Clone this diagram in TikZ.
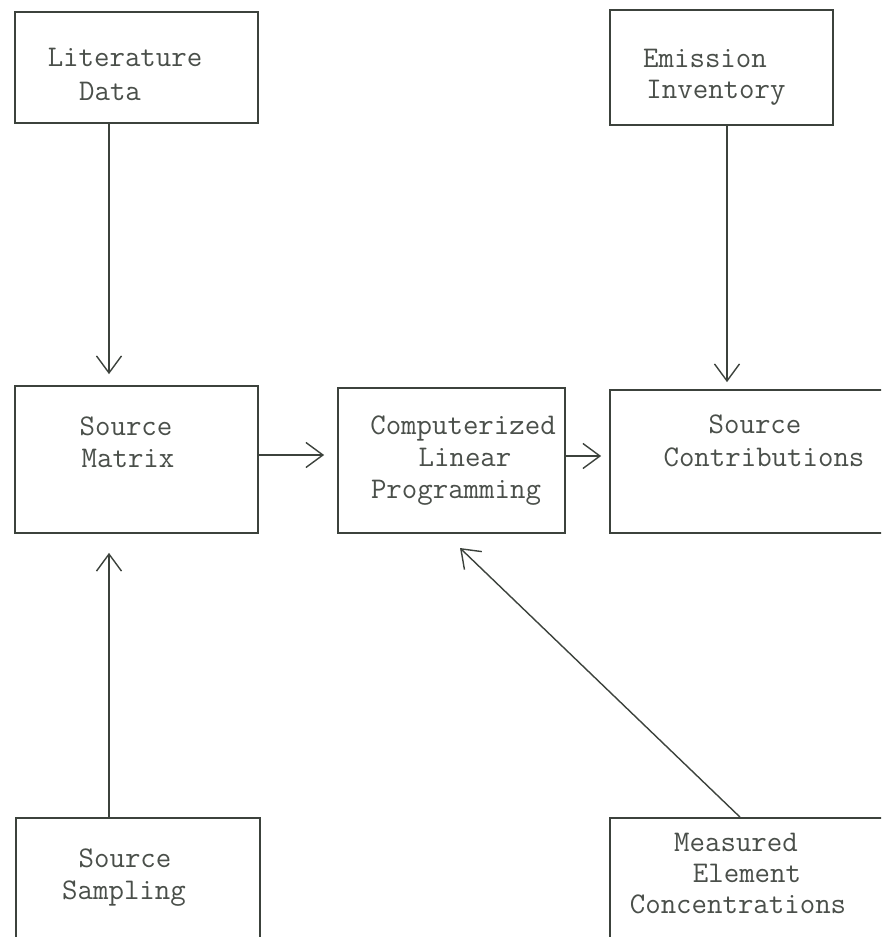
\documentclass[tikz,border=0pt]{standalone}
\usetikzlibrary{arrows.meta}
\definecolor{ink}{HTML}{3C423C}
\definecolor{txt}{HTML}{4A4F4A}
\begin{document}
\begin{tikzpicture}[x=1pt,y=-1pt,
  box/.style={draw=ink, line width=1.8pt, rectangle, inner sep=0pt},
  lbl/.style={anchor=base, inner sep=0pt, text=txt, font=\fontsize{30}{32}\selectfont\ttfamily},
  arr/.style={draw=ink, line width=1.4pt, -{Straight Barb[length=17pt,width=25pt,line width=1.4pt]}}]
\useasboundingbox (0,0) rectangle (881,937);
\clip (0,0) rectangle (881,937);
\fill[white] (0,0) rectangle (881,937);
% boxes
\node[box, minimum width=243pt, minimum height=111pt] (lit) at (136.5,67.5) {};
\node[box, minimum width=223pt, minimum height=115pt] (emi) at (721.5,67.5) {};
\node[box, minimum width=243pt, minimum height=147pt] (mat) at (136.5,459.5) {};
\node[box, minimum width=227pt, minimum height=145pt] (clp) at (451.5,460.5) {};
\node[box, minimum width=285pt, minimum height=143pt] (con) at (752.5,461.5) {};
\node[box, minimum width=244pt, minimum height=132pt] (sam) at (138,884) {};
\node[box, minimum width=285pt, minimum height=132pt] (mea) at (752.5,884) {};
% labels
\node[lbl] (lit1) at (125,66) {Literature};
\node[lbl] (lit2) at (110,100) {Data};
\node[lbl] (emi1) at (705,67) {Emission};
\node[lbl] (emi2) at (716,98) {Inventory};
\node[lbl] (mat1) at (126,435) {Source};
\node[lbl] (mat2) at (128,467) {Matrix};
\node[lbl] (clp1) at (463,434) {Computerized};
\node[lbl] (clp2) at (465,466) {Linear};
\node[lbl] (clp3) at (456,498) {Programming};
\node[lbl] (con1) at (755,433) {Source};
\node[lbl] (con2) at (764,466) {Contributions};
\node[lbl] (sam1) at (125,867) {Source};
\node[lbl] (sam2) at (124,899) {Sampling};
\node[lbl] (mea1) at (736,851) {Measured};
\node[lbl] (mea2) at (747,882) {Element};
\node[lbl] (mea3) at (738,913) {Concentrations};
% anchor helpers
\coordinate (xa) at (109,0);
\coordinate (xb) at (727,0);
\coordinate (ya) at (0,455);
\coordinate (yb) at (0,456);
\coordinate (m0) at (740,0);
\coordinate (tipm) at (460,548);
% connectors
\draw[arr] (xa |- lit.south) -- ([yshift=11pt]xa |- mat.north);
\draw[arr] (xb |- emi.south) -- ([yshift=7pt]xb |- con.north);
\draw[arr] (ya -| mat.east) -- ([xshift=-13pt]ya -| clp.west);
\draw[arr] (yb -| clp.east) -- ([xshift=-8pt]yb -| con.west);
\draw[arr] (xa |- sam.north) -- ([yshift=-19pt]xa |- mat.south);
\draw[arr] (m0 |- mea.north) -- (tipm);
\end{tikzpicture}
\end{document}
